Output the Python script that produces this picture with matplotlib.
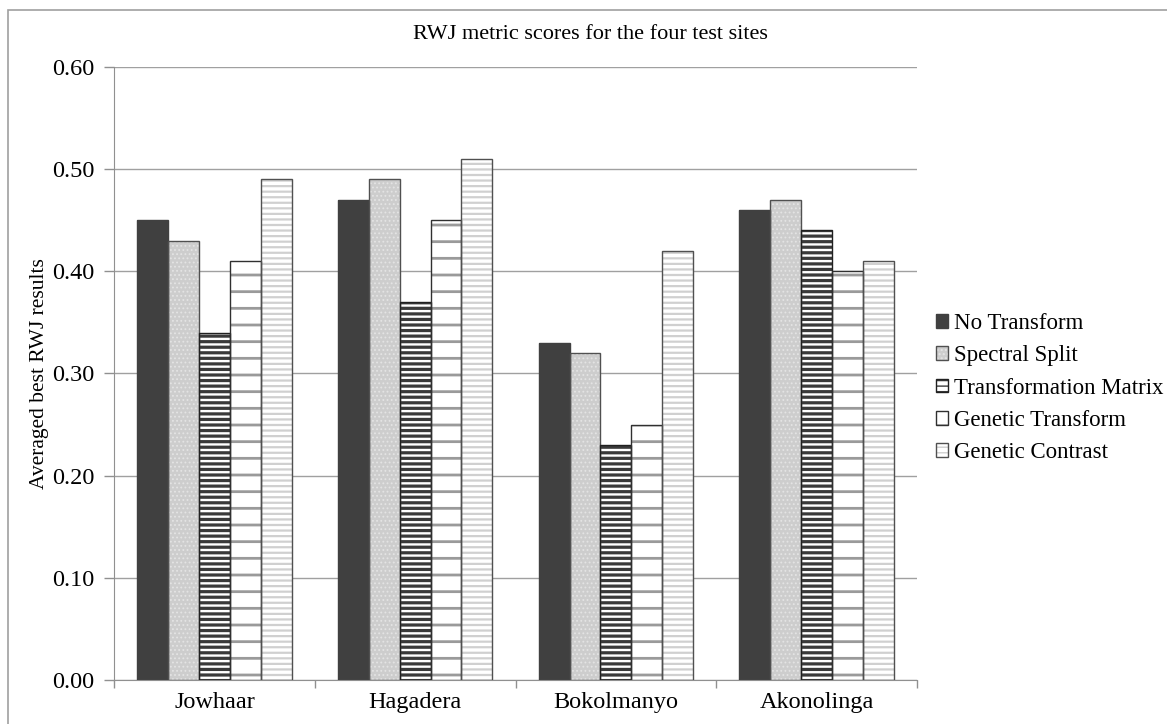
import matplotlib.pyplot as plt
import numpy as np
from matplotlib.patches import Patch, Rectangle
from matplotlib.legend_handler import HandlerTuple

plt.rcParams['font.family'] = ['Liberation Serif', 'DejaVu Serif']

sites = ['Jowhaar', 'Hagadera', 'Bokolmanyo', 'Akonolinga']
methods = ['No Transform', 'Spectral Split', 'Transformation Matrix',
           'Genetic Transform', 'Genetic Contrast']

no_transform = [0.45, 0.47, 0.33, 0.46]
spectral_split = [0.43, 0.49, 0.32, 0.47]
transform_matrix = [0.34, 0.37, 0.23, 0.44]
genetic_transform = [0.41, 0.45, 0.25, 0.40]
genetic_contrast = [0.49, 0.51, 0.42, 0.41]
series = [no_transform, spectral_split, transform_matrix,
          genetic_transform, genetic_contrast]

yticks = [0.0, 0.1, 0.2, 0.3, 0.4, 0.5, 0.6]

# fill colour, hatch, hatch colour, hatch width, outline colour
styles = [
    ('#404040', None, '#404040', 1.0, '#404040'),
    ('#cdcdcd', '....', '#e4e4e4', 0.8, '#505050'),
    ('white', '---', '#3a3a3a', 2.3, '#202020'),
    ('white', '-', '#9a9a9a', 2.0, '#303030'),
    ('white', '---', '#d0d0d0', 1.6, '#505050'),
]

fig = plt.figure(figsize=(11.67, 7.24), dpi=100)
ax = fig.add_axes([0.0977, 0.0608, 0.6881, 0.8467])

x = np.arange(len(sites))
width = 1 / 6.5
handles = []
for i, (vals, st) in enumerate(zip(series, styles)):
    face, hatch, hcol, hlw, edge = st
    pos = x + (i - 2) * width
    with plt.rc_context({'hatch.linewidth': hlw}):
        ax.bar(pos, vals, width, color=face, hatch=hatch, edgecolor=hcol,
               linewidth=0, zorder=2)
        h1 = Patch(facecolor=face, hatch=hatch, edgecolor=hcol, linewidth=0)
    ax.bar(pos, vals, width, fill=False, edgecolor=edge, linewidth=1.0,
           zorder=3)
    h2 = Patch(fill=False, edgecolor=edge, linewidth=1.0)
    handles.append((h1, h2))

ax.set_xlim(-0.5, 3.5)
ax.set_ylim(0, 0.6)
ax.set_yticks(yticks)
ax.set_yticklabels(['%.2f' % v for v in yticks])
ax.yaxis.grid(True, color='#a0a0a0', linewidth=1.0, zorder=0)
ax.set_axisbelow(True)
ax.set_xticks(x)
ax.set_xticklabels(sites)
ax.set_xticks(np.arange(-0.5, 4, 1.0), minor=True)
ax.tick_params(axis='x', which='major', length=0, labelsize=17.5, pad=9)
ax.tick_params(axis='x', which='minor', length=6, color='#909090', width=1)
ax.tick_params(axis='y', length=7, color='#909090', width=1, labelsize=17.5,
               pad=7)
for side in ['top', 'right']:
    ax.spines[side].set_visible(False)
for side in ['left', 'bottom']:
    ax.spines[side].set_color('#909090')

ax.set_ylabel('Averaged best RWJ results', fontsize=15.5, labelpad=2)
fig.text(0.506, 0.952, 'RWJ metric scores for the four test sites',
         ha='center', va='center', fontsize=16)

fig.legend(handles, methods, handler_map={tuple: HandlerTuple(ndivide=1)},
           loc='center left', bbox_to_anchor=(0.794, 0.464), frameon=False,
           fontsize=16.5, handlelength=0.55, handleheight=0.55,
           handletextpad=0.25, labelspacing=0.49, borderaxespad=0)

# thin frame around the whole chart
fig.patches.append(Rectangle((8 / 1167, -0.01), 1.02, 1 - 10 / 724 + 0.01,
                             transform=fig.transFigure, fill=False,
                             edgecolor='#a0a0a0', linewidth=1.2))

fig.savefig('out.png', dpi=100)
